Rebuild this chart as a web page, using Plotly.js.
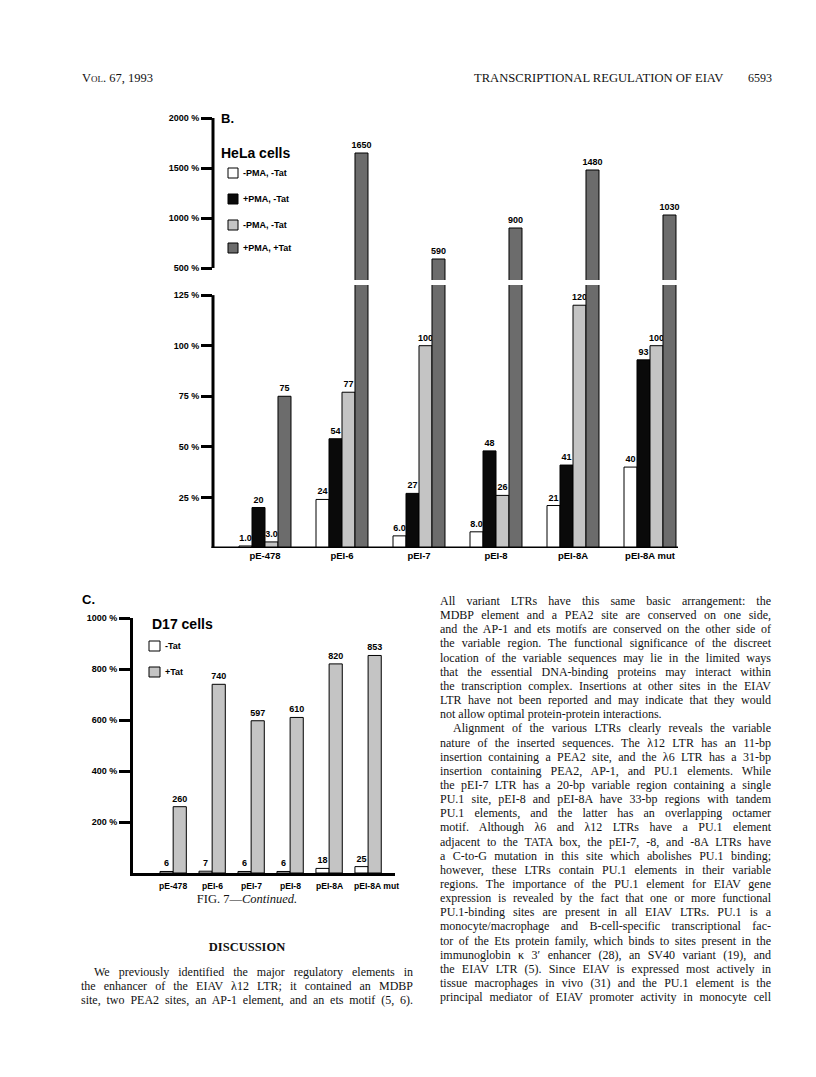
<!DOCTYPE html>
<html>
<head>
<meta charset="utf-8">
<script src="https://cdn.plot.ly/plotly-3.0.1.min.js"></script>
<style>
  html, body { margin: 0; padding: 0; background: #ffffff; }
  #page { position: relative; width: 816px; height: 1077px; overflow: hidden; }
  #chart { position: absolute; left: 0; top: 0; width: 816px; height: 1077px; }
  .txt { position: absolute; font-family: "Liberation Serif", "Times New Roman", serif; font-size: 12px; line-height: 14px; color: #111; white-space: nowrap; }
  .jl { white-space: normal; text-align: justify; text-align-last: justify; height: 14px; overflow: visible; }
</style>
</head>
<body>
<div id="page">
  <div id="chart"></div>
</div>
<script>
// ---------------- data ----------------
const categories = ['pE-478', 'pEI-6', 'pEI-7', 'pEI-8', 'pEI-8A', 'pEI-8A mut'];

// Panel B: HeLa cells
const helaSeriesNames = ['-PMA, -Tat', '+PMA, -Tat', '-PMA, -Tat', '+PMA, +Tat'];
const helaMinusPmaMinusTat = [1.0, 24, 6.0, 8.0, 21, 40];
const helaMinusPmaMinusTatLabels = ['1.0', '24', '6.0', '8.0', '21', '40'];
const helaPlusPmaMinusTat = [20, 54, 27, 48, 41, 93];
const helaPlusPmaMinusTatLabels = ['20', '54', '27', '48', '41', '93'];
const helaMinusPmaPlusTat = [3.0, 77, 100, 26, 120, 100];
const helaMinusPmaPlusTatLabels = ['3.0', '77', '100', '26', '120', '100'];
const helaPlusPmaPlusTat = [75, 1650, 590, 900, 1480, 1030];
const helaPlusPmaPlusTatLabels = ['75', '1650', '590', '900', '1480', '1030'];

const helaUpperTickVals = [500, 1000, 1500, 2000];
const helaUpperTickText = ['500 %', '1000 %', '1500 %', '2000 %'];
const helaLowerTickVals = [25, 50, 75, 100, 125];
const helaLowerTickText = ['25 %', '50 %', '75 %', '100 %', '125 %'];

// Panel C: D17 cells
const d17SeriesNames = ['-Tat', '+Tat'];
const d17MinusTat = [6, 7, 6, 6, 18, 25];
const d17PlusTat = [260, 740, 597, 610, 820, 853];
const d17TickVals = [200, 400, 600, 800, 1000];
const d17TickText = ['200 %', '400 %', '600 %', '800 %', '1000 %'];

// ---------------- styling helpers ----------------
const W = 816, H = 1077;
const X = px => px / W;
const Y = py => 1 - py / H;
const FONT = 'Liberation Sans, Arial, sans-serif';
const WHITE = '#ffffff', BLACK = '#0a0a0a', LIGHT = '#c4c4c4', DARK = '#6c6c6c';

const upperBreak = 380, upperTop = 2000, lowerTop = 130;

function bar(name, vals, text, color, xa, ya) {
  return {
    type: 'bar', name: name, x: categories, y: vals, xaxis: xa, yaxis: ya,
    text: text, textposition: 'outside', constraintext: 'none',
    textfont: { family: FONT, size: 9, color: '#000', weight: 'bold' },
    marker: { color: color, line: { color: '#000', width: 1 } },
    showlegend: false, hoverinfo: 'x+y'
  };
}
const lowerText = (vals, labels) => vals.map((v, i) => v <= lowerTop ? labels[i] : '');
const upperText = (vals, labels) => vals.map((v, i) => v >= upperBreak ? labels[i] : '');
const none = vals => vals.map(() => '');

const helaSeries = [
  [helaMinusPmaMinusTat, helaMinusPmaMinusTatLabels, WHITE],
  [helaPlusPmaMinusTat, helaPlusPmaMinusTatLabels, BLACK],
  [helaMinusPmaPlusTat, helaMinusPmaPlusTatLabels, LIGHT],
  [helaPlusPmaPlusTat, helaPlusPmaPlusTatLabels, DARK]
];

const traces = [];
helaSeries.forEach((s, k) => {
  traces.push(bar(helaSeriesNames[k], s[0], lowerText(s[0], s[1]), s[2], 'x2', 'y2'));
});
helaSeries.forEach((s, k) => {
  traces.push(bar(helaSeriesNames[k], s[0], k === 3 ? upperText(s[0], s[1]) : none(s[0]), s[2], 'x', 'y'));
});
traces.push(bar(d17SeriesNames[0], d17MinusTat, d17MinusTat.map(String), WHITE, 'x3', 'y3'));
traces.push(bar(d17SeriesNames[1], d17PlusTat, d17PlusTat.map(String), LIGHT, 'x3', 'y3'));

const tickFont = { family: FONT, size: 9, color: '#000', weight: 'bold' };
const catFontB = { family: FONT, size: 9.5, color: '#000', weight: 'bold' };

function yAxis(domain, range, vals, text, showline) {
  return {
    domain: domain, range: range, fixedrange: true,
    tickmode: 'array', tickvals: vals, ticktext: text,
    ticks: 'outside', ticklen: 11, tickwidth: 3, tickcolor: '#000',
    tickfont: tickFont, showgrid: false, zeroline: false,
    showline: showline, linewidth: 3, linecolor: '#000'
  };
}

// B x-axis: groups 77 px apart, first group centred at x=265 px
const bLeft = 213, bRight = 705, bFirst = 265, bStep = 77;
const bRange = [(bLeft - bFirst) / bStep, (bRight - bFirst) / bStep];

const layout = {
  width: W, height: H,
  margin: { l: 0, r: 0, t: 0, b: 0 },
  paper_bgcolor: '#ffffff', plot_bgcolor: 'rgba(0,0,0,0)',
  barmode: 'group', bargap: 0.325, bargroupgap: 0,
  showlegend: false,
  font: { family: FONT, color: '#000' },
  // B upper (broken-axis top part)
  xaxis: { domain: [X(bLeft), X(bRight)], range: bRange, anchor: 'y', showticklabels: false,
           ticks: '', showline: false, showgrid: false, zeroline: false, fixedrange: true },
  yaxis: Object.assign(yAxis([Y(280), Y(118)], [upperBreak, upperTop], helaUpperTickVals, helaUpperTickText, false), { anchor: 'x' }),
  // B lower
  xaxis2: { domain: [X(bLeft), X(bRight)], range: bRange, anchor: 'y2', ticks: '', tickangle: 0,
            showline: false, showgrid: false, zeroline: false,
            tickfont: catFontB, fixedrange: true },
  yaxis2: Object.assign(yAxis([Y(548), Y(285)], [0, lowerTop], helaLowerTickVals, helaLowerTickText, false), { anchor: 'x2' }),
  // C
  xaxis3: { domain: [X(133), X(395)], range: [-1.03, 5.69], anchor: 'y3', ticks: '',
            showticklabels: false,
            showline: true, linewidth: 3, linecolor: '#000', showgrid: false, zeroline: false,
            fixedrange: true },
  yaxis3: Object.assign(yAxis([Y(873), Y(618)], [0, 1000], d17TickVals, d17TickText, true), { anchor: 'x3' }),
  shapes: [],
  annotations: []
};

// axis lines of the broken B axis (only over the labelled span)
layout.shapes.push({ type: 'line', xref: 'paper', yref: 'y', x0: X(bLeft), x1: X(bLeft), y0: 500, y1: 2000, line: { color: '#000', width: 3 } });
layout.shapes.push({ type: 'line', xref: 'paper', yref: 'y2', x0: X(bLeft), x1: X(bLeft), y0: 0, y1: 125, line: { color: '#000', width: 3 } });
layout.shapes.push({ type: 'line', xref: 'paper', yref: 'y2', x0: X(bLeft - 1.5), x1: X(678), y0: 0, y1: 0, line: { color: '#000', width: 3 } });

function ann(text, px, py, size, anchor) {
  layout.annotations.push({
    text: text, xref: 'paper', yref: 'paper', x: X(px), y: Y(py),
    xanchor: anchor || 'left', yanchor: 'middle', showarrow: false,
    font: { family: FONT, size: size, color: '#000', weight: 'bold' }
  });
}
function box(px0, px1, pyc, color) {
  layout.shapes.push({ type: 'rect', xref: 'paper', yref: 'paper',
    x0: X(px0), x1: X(px1), y0: Y(pyc + 5), y1: Y(pyc - 5),
    fillcolor: color, line: { color: '#000', width: 1 } });
}

// Panel B labels and legend
ann('B.', 219, 118, 13);
ann('HeLa cells', 219, 153, 14);
const helaLegendY = [173, 199, 225, 248];
helaSeries.forEach((s, k) => {
  box(228, 238, helaLegendY[k], s[2]);
  ann(helaSeriesNames[k], 241, helaLegendY[k], 9);
});

// Panel C labels and legend
ann('C.', 80, 599, 13);
ann('D17 cells', 150, 624, 14);
const d17Colors = [WHITE, LIGHT];
const d17LegendY = [646, 672];
d17SeriesNames.forEach((n, k) => {
  box(149, 160, d17LegendY[k], d17Colors[k]);
  ann(n, 163, d17LegendY[k], 9);
});
// Panel C category labels (placed on the x3 category scale)
categories.forEach((c, i) => {
  layout.annotations.push({
    text: c, xref: 'x3', x: c, yref: 'paper', y: Y(886), xanchor: 'center', yanchor: 'middle',
    xshift: i === categories.length - 1 ? 8 : 0, showarrow: false,
    font: { family: FONT, size: 8.6, color: '#000', weight: 'bold' }
  });
});

Plotly.newPlot('chart', traces, layout, { staticPlot: true, displayModeBar: false });

// ---------------- page text ----------------
const page = document.getElementById('page');
function addText(html, left, topC, opts) {
  const d = document.createElement('div');
  d.className = 'txt' + (opts && opts.justify ? ' jl' : '');
  d.style.left = left + 'px';
  d.style.top = (topC - 7) + 'px';
  if (opts && opts.width) d.style.width = opts.width + 'px';
  if (opts && opts.css) Object.assign(d.style, opts.css);
  d.innerHTML = html;
  page.appendChild(d);
}

// running head
addText('Vol. 67, 1993', 82, 78, { css: { fontVariant: 'small-caps', fontSize: '12.5px' } });
addText('TRANSCRIPTIONAL REGULATION OF EIAV', 474, 78, { css: { fontSize: '12.6px' } });
addText('6593', 748, 78, { css: { fontSize: '12px' } });

// caption and left column
addText('FIG. 7—<i>Continued.</i>', 247, 899, { css: { transform: 'translateX(-50%)', fontSize: '12.5px' } });
addText('<b>DISCUSSION</b>', 247, 947, { css: { transform: 'translateX(-50%)', fontSize: '12.5px' } });
const leftLines = [
  'We previously identified the major regulatory elements in',
  'the enhancer of the EIAV λ12 LTR; it contained an MDBP',
  'site, two PEA2 sites, an AP-1 element, and an ets motif (5, 6).'
];
leftLines.forEach((t, i) => {
  const ind = i === 0 ? 13 : 0;
  addText(t, 81 + ind, 972 + i * 14, { justify: true, width: 332 - ind });
});

// right column
const rightLines = [
  'All variant LTRs have this same basic arrangement: the',
  'MDBP element and a PEA2 site are conserved on one side,',
  'and the AP-1 and ets motifs are conserved on the other side of',
  'the variable region. The functional significance of the discreet',
  'location of the variable sequences may lie in the limited ways',
  'that the essential DNA-binding proteins may interact within',
  'the transcription complex. Insertions at other sites in the EIAV',
  'LTR have not been reported and may indicate that they would',
  'not allow optimal protein-protein interactions.',
  'Alignment of the various LTRs clearly reveals the variable',
  'nature of the inserted sequences. The λ12 LTR has an 11-bp',
  'insertion containing a PEA2 site, and the λ6 LTR has a 31-bp',
  'insertion containing PEA2, AP-1, and PU.1 elements. While',
  'the pEI-7 LTR has a 20-bp variable region containing a single',
  'PU.1 site, pEI-8 and pEI-8A have 33-bp regions with tandem',
  'PU.1 elements, and the latter has an overlapping octamer',
  'motif. Although λ6 and λ12 LTRs have a PU.1 element',
  'adjacent to the TATA box, the pEI-7, -8, and -8A LTRs have',
  'a C-to-G mutation in this site which abolishes PU.1 binding;',
  'however, these LTRs contain PU.1 elements in their variable',
  'regions. The importance of the PU.1 element for EIAV gene',
  'expression is revealed by the fact that one or more functional',
  'PU.1-binding sites are present in all EIAV LTRs. PU.1 is a',
  'monocyte/macrophage and B-cell-specific transcriptional fac-',
  'tor of the Ets protein family, which binds to sites present in the',
  'immunoglobin κ 3′ enhancer (28), an SV40 variant (19), and',
  'the EIAV LTR (5). Since EIAV is expressed most actively in',
  'tissue macrophages in vivo (31) and the PU.1 element is the',
  'principal mediator of EIAV promoter activity in monocyte cell'
];
rightLines.forEach((t, i) => {
  const ind = i === 9 ? 13 : 0;
  const last = i === 8;
  addText(t, 440 + ind, 601 + i * 14.15, { justify: !last, width: 331 - ind });
});
</script>
</body>
</html>
